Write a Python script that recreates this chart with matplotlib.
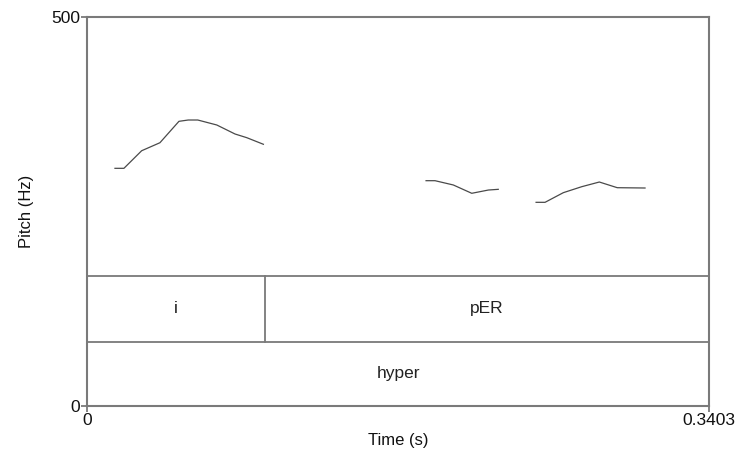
import matplotlib
matplotlib.use("Agg")
import matplotlib.pyplot as plt

plt.rcParams['font.family'] = ['Liberation Sans', 'DejaVu Sans']

# Pitch track (time in s, pitch in Hz), voiced stretches separated
seg1_t = [0.0153, 0.0202, 0.0299, 0.0399, 0.0503, 0.0554, 0.0606, 0.0710, 0.0810, 0.0874, 0.0965]
seg1_f = [305.5, 305.5, 328.1, 338.4, 365.9, 367.6, 367.6, 361.2, 349.6, 344.9, 336.4]
seg2_t = [0.1855, 0.1904, 0.2004, 0.2105, 0.2196, 0.2250]
seg2_f = [289.6, 289.6, 284.1, 273.4, 277.6, 278.5]
seg3_t = [0.2457, 0.2506, 0.2606, 0.2707, 0.2803, 0.2901, 0.3053]
seg3_f = [261.8, 261.8, 274.2, 281.9, 287.9, 280.6, 280.2]

# Annotation tiers: interval boundaries (s) and labels
tier1_bounds = [0.0, 0.0974, 0.3403]
tier1_labels = ["i", "pER"]
tier2_bounds = [0.0, 0.3403]
tier2_labels = ["hyper"]

t_max = 0.3403
f_max = 500

fig = plt.figure(figsize=(7.4, 4.53), dpi=100)
ax = fig.add_axes([87 / 740, 47 / 453, 622 / 740, 389 / 453])

curve_color = "#4a4a4a"
frame_color = "#7a7a7a"

for t, f in [(seg1_t, seg1_f), (seg2_t, seg2_f), (seg3_t, seg3_f)]:
    ax.plot(t, f, color=curve_color, lw=0.9)

ax.set_xlim(0, t_max)
ax.set_ylim(0, f_max)

# Tier rows drawn in axes-fraction heights
tier_top = [0.334, 0.165]
tier_bot = [0.165, 0.0]
trans = ax.get_xaxis_transform()
for top in tier_top:
    ax.plot([0, 1], [top, top], transform=ax.transAxes, color=frame_color, lw=1.3)

for bounds, labels, top, bot in [(tier1_bounds, tier1_labels, tier_top[0], tier_bot[0]),
                                 (tier2_bounds, tier2_labels, tier_top[1], tier_bot[1])]:
    for b in bounds[1:-1]:
        ax.plot([b, b], [bot, top], transform=trans, color=frame_color, lw=1.3)
    for i, lab in enumerate(labels):
        ax.text((bounds[i] + bounds[i + 1]) / 2, (top + bot) / 2, lab,
                transform=trans, ha="center", va="center", fontsize=12.5, color="#222222")

for s in ax.spines.values():
    s.set_color(frame_color)
    s.set_linewidth(1.5)

ax.set_xticks([0, t_max])
ax.set_xticklabels(["0", "0.3403"])
ax.set_yticks([0, f_max])
ax.set_yticklabels(["0", "500"])
ax.tick_params(axis="both", colors=frame_color, length=4, width=1.3,
               labelsize=12.5, labelcolor="#111111", pad=1)

ax.set_xlabel("Time (s)", fontsize=12, color="#111111", labelpad=4)
ax.set_ylabel("Pitch (Hz)", fontsize=12, color="#111111", labelpad=12)

fig.savefig("out.png", dpi=100)
